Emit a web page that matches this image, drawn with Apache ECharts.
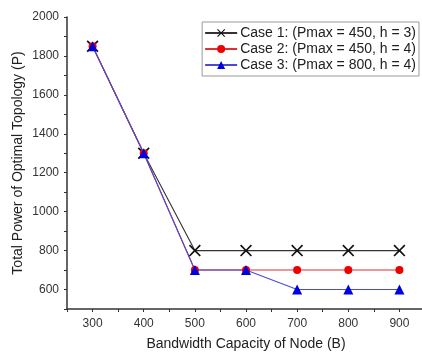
<!DOCTYPE html>
<html>
<head>
<meta charset="utf-8">
<script src="https://cdn.jsdelivr.net/npm/echarts@6/dist/echarts.min.js"></script>
<style>
html,body{margin:0;padding:0;background:#fff;}
#chart{width:422px;height:352px;}
</style>
</head>
<body>
<div id="chart"></div>
<script>
var bandwidth = [300, 400, 500, 600, 700, 800, 900];
var case1 = [1850, 1300, 800, 800, 800, 800, 800];
var case2 = [1850, 1300, 700, 700, 700, 700, 700];
var case3 = [1850, 1300, 700, 700, 600, 600, 600];
var names = ['Case 1: (Pmax = 450, h = 3)', 'Case 2: (Pmax = 450, h = 4)', 'Case 3: (Pmax = 800, h = 4)'];

function pairs(ys) {
    return bandwidth.map(function (b, i) { return [b, ys[i]]; });
}

var cross = 'path://M0,1L1,0L5,4L9,0L10,1L6,5L10,9L9,10L5,6L1,10L0,9L4,5Z';
var font = 'Liberation Sans, Arial, sans-serif';

var myChart = echarts.init(document.getElementById('chart'));
myChart.setOption({
    animation: false,
    grid: {left: 67, right: -3, top: 17, bottom: 43, outerBoundsMode: 'none'},
    legend: {
        orient: 'vertical',
        right: 3,
        top: 22,
        itemWidth: 32,
        itemHeight: 10,
        itemGap: 2,
        padding: [4, 3, 4, 2],
        borderColor: '#999',
        borderWidth: 1,
        borderRadius: 0,
        textStyle: {fontSize: 14, color: '#222', fontFamily: font, padding: [0, 0, 0, -2]},
        data: names
    },
    xAxis: {
        type: 'value',
        min: 250, max: 950, interval: 50,
        name: 'Bandwidth Capacity of Node (B)',
        nameLocation: 'middle',
        nameGap: 28,
        nameMoveOverlap: false,
        nameTextStyle: {fontSize: 14, color: '#222', fontFamily: font},
        axisLine: {lineStyle: {color: '#333', width: 1.5}},
        axisTick: {inside: false, length: 3, lineStyle: {color: '#333'}},
        axisLabel: {
            fontSize: 12, color: '#333', fontFamily: font, margin: 9,
            formatter: function (v) { return v % 100 === 0 ? String(v) : ''; }
        },
        splitLine: {show: false}
    },
    yAxis: {
        type: 'value',
        min: 500, max: 2000, interval: 100,
        name: 'Total Power of Optimal Topology (P)',
        nameLocation: 'middle',
        nameGap: 42,
        nameMoveOverlap: false,
        nameTextStyle: {fontSize: 14, color: '#222', fontFamily: font},
        axisLine: {show: true, lineStyle: {color: '#333', width: 1.5}},
        axisTick: {show: true, inside: false, length: 3, lineStyle: {color: '#333'}},
        axisLabel: {
            fontSize: 12, color: '#333', fontFamily: font, margin: 8,
            formatter: function (v) { return v % 200 === 0 ? String(v) : ''; }
        },
        splitLine: {show: false}
    },
    series: [
        {
            name: names[0], type: 'line', data: pairs(case1),
            symbol: cross, symbolSize: 12,
            lineStyle: {color: '#333', width: 1.1},
            itemStyle: {color: '#111'}
        },
        {
            name: names[1], type: 'line', data: pairs(case2),
            symbol: 'circle', symbolSize: 8,
            lineStyle: {color: '#e03030', width: 1.1},
            itemStyle: {color: '#ee0000'}
        },
        {
            name: names[2], type: 'line', data: pairs(case3),
            symbol: 'triangle', symbolSize: 10,
            lineStyle: {color: '#4a4ad8', width: 1.1},
            itemStyle: {color: '#0000dd'}
        }
    ]
});
</script>
</body>
</html>
